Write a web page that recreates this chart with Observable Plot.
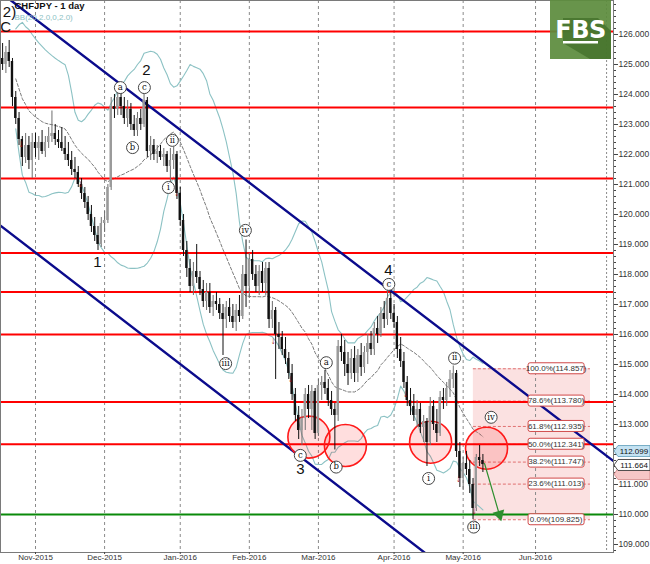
<!DOCTYPE html>
<html><head><meta charset="utf-8">
<script src="https://cdn.jsdelivr.net/npm/d3@7"></script>
<script src="https://cdn.jsdelivr.net/npm/@observablehq/plot@0.6"></script>
<style>
body{margin:0;background:#fff;}
#wrap{position:relative;width:650px;height:564px;overflow:hidden;background:#fff;}
#logo{position:absolute;left:550px;top:0;width:61px;height:59px;}
svg{overflow:visible}
</style></head><body><div id="wrap"><div id="logo"></div></div>
<script>
// ---------------- data ----------------
const title = "CHFJPY - 1 day";
const subtitle = "BB(20,2.0,0,2.0)";
const firstIndex = -10;            // bar index of 2015-10-19 (2015-11-02 = 0)
const firstDate = "2015-10-19";
const opens  = [125.2,125.0,125.4,125.1,123.9,123.2,122.5,121.9,122.3,121.8,
 122.4,122.2,122.4,122.1,122.4,122.6,122.7,122.5,122.4,122.2,122.0,121.8,121.5,121.4,121.0,120.7,120.4,120.0,119.6,119.3,119.0,
 119.7,119.8,120.9,123.6,123.5,123.9,123.6,123.2,123.5,123.0,122.8,123.2,123.0,123.8,122.1,122.3,122.0,122.1,121.9,122.0,121.6,121.8,122.0,
 120.7,119.8,118.8,118.2,117.6,118.1,117.9,117.5,117.1,117.4,116.9,117.1,117.0,116.7,116.5,116.9,116.6,116.4,116.8,116.6,118.0,
 117.6,118.5,118.0,117.6,118.1,117.7,118.2,116.5,116.8,116.0,115.9,115.5,115.2,114.7,114.0,113.3,112.8,113.2,114.0,113.5,114.1,
 112.7,114.3,114.4,114.2,113.8,113.5,113.3,115.6,115.4,115.0,114.7,115.2,114.7,115.3,114.9,115.4,115.7,115.5,116.2,116.0,116.7,116.5,117.2,
 116.7,116.4,115.5,115.1,114.4,113.8,113.6,113.3,113.5,112.9,113.1,112.4,113.6,113.0,112.7,113.9,113.8,114.2,114.5,114.7,112.1,
 111.2,111.7,111.5,111.0,110.2,111.9,111.8];
const highs  = [125.7,125.6,125.8,125.2,124.1,123.4,122.6,122.7,122.6,122.7,
 122.7,122.6,122.8,122.6,122.9,123.45,123.0,122.8,122.9,122.6,122.4,122.1,121.9,121.6,121.2,120.9,120.6,120.3,119.9,119.6,119.9,
 120.1,121.0,123.9,124.0,124.15,124.1,123.9,123.8,123.7,123.3,123.4,123.5,124.05,123.9,122.6,122.5,122.3,122.3,122.2,122.1,122.2,122.25,122.1,
 120.9,120.0,119.1,118.5,118.4,119.0,118.1,117.8,117.7,117.7,117.3,117.4,117.2,117.0,117.1,117.2,117.0,117.0,117.3,118.3,119.15,
 118.7,118.8,118.3,118.3,118.4,118.4,118.4,117.1,116.9,116.4,116.1,115.9,115.4,115.0,114.2,113.6,113.5,114.2,114.3,114.3,114.2,
 114.5,114.6,114.8,114.5,114.1,113.7,115.8,116.0,115.8,115.4,115.5,115.6,115.5,115.7,115.6,116.0,116.1,116.4,116.6,116.9,117.1,117.5,117.4,
 117.0,116.6,115.9,115.4,114.6,114.2,114.0,113.8,113.7,113.3,113.2,113.9,113.8,113.5,114.1,114.2,114.4,114.8,114.95,114.8,112.4,
 111.9,112.1,111.8,111.2,112.0,112.3,112.0];
const lows   = [124.8,124.7,124.9,123.6,123.0,122.3,121.6,121.7,121.5,121.2,
 121.9,121.8,122.0,121.9,122.2,122.4,122.3,122.2,122.1,121.8,121.6,121.3,121.2,120.9,120.5,120.2,119.8,119.4,119.1,118.8,118.9,
 119.4,119.7,120.8,123.2,123.3,123.3,123.0,122.9,122.8,122.6,122.6,122.8,122.9,121.9,121.8,121.8,121.7,121.8,121.6,121.4,121.0,121.5,120.5,
 119.6,118.6,117.9,117.4,117.3,117.7,117.3,116.9,116.8,116.7,116.6,116.8,116.5,115.3,116.2,116.4,116.2,116.1,116.4,116.5,116.9,
 117.2,117.8,117.4,117.3,117.4,117.3,116.2,116.2,114.5,115.5,115.3,115.0,114.5,113.8,113.1,112.5,112.3,112.8,113.2,112.8,112.5,
 112.6,113.8,114.0,113.6,113.3,112.15,113.1,115.1,114.6,114.3,114.5,114.4,114.4,114.6,114.7,115.0,115.3,115.3,115.7,115.9,116.2,116.3,116.5,
 116.2,115.2,114.9,114.2,113.6,113.3,113.1,112.9,112.7,112.4,111.6,112.3,112.8,112.4,112.6,113.5,113.6,113.9,114.2,111.9,110.9,
 110.8,111.3,110.7,109.83,110.1,111.6,111.4];
const closes = [125.0,125.4,125.1,123.9,123.2,122.5,121.9,122.3,121.8,122.4,
 122.2,122.4,122.1,122.4,122.6,122.7,122.5,122.4,122.2,122.0,121.8,121.5,121.4,121.0,120.7,120.4,120.0,119.6,119.3,119.0,119.7,
 119.8,120.9,123.6,123.5,123.9,123.6,123.2,123.5,123.0,122.8,123.2,123.0,123.8,122.1,122.3,122.0,122.1,121.9,122.0,121.6,121.8,122.0,120.7,
 119.8,118.8,118.2,117.6,118.1,117.9,117.5,117.1,117.4,116.9,117.1,117.0,116.7,116.5,116.9,116.6,116.4,116.8,116.6,118.0,117.6,
 118.5,118.0,117.6,118.1,117.7,118.2,116.5,116.8,116.0,115.9,115.5,115.2,114.7,114.0,113.3,112.8,113.2,114.0,113.5,114.1,112.7,
 114.3,114.4,114.2,113.8,113.5,113.3,115.6,115.4,115.0,114.7,115.2,114.7,115.3,114.9,115.4,115.7,115.5,116.2,116.0,116.7,116.5,117.2,116.7,
 116.4,115.5,115.1,114.4,113.8,113.6,113.3,113.5,112.9,113.1,112.4,113.6,113.0,112.7,113.9,113.8,114.2,114.5,114.7,112.1,111.2,
 111.7,111.5,111.0,110.2,111.9,111.8,111.664];

const monthStarts = ["2015-11-01","2015-12-01","2016-01-01","2016-02-01","2016-03-01","2016-04-01","2016-05-01","2016-06-01"];
const monthLabels = ["Nov-2015","Dec-2015","Jan-2016","Feb-2016","Mar-2016","Apr-2016","May-2016","Jun-2016"];
const priceTicks = [109,110,111,112,113,114,115,116,117,118,119,120,121,122,123,124,125,126];
const hiddenTickLabels = [112];   // covered by the price tags in the reference

const redLevels = [126.1,123.57,121.2,118.72,117.42,116.0,113.75,112.34];
const greenLevel = [110.0];

const fibPct    = [100.0,78.6,61.8,50.0,38.2,23.6,0.0];
const fibLevels = [114.857,113.780,112.935,112.341,111.747,111.013,109.825];
const fibStartIdx = 133.1, fibEndIdx = 168.7, fibLabelIdx = 158.4;

const upperChannel = [[-10.64,127.40],[175.7,111.78]];
const lowerChannel = [[-10.64,119.63],[121.0,108.50]];

const circleIdx   = [83.1,94.2,120.1,137.1];
const circlePrice = [112.58,112.30,112.41,112.21];

const waveText  = ["a","b","c","ii","i","iv","iii","c","a","b","c","i","ii","iv","iii"];
const waveIdx   = [25.8,29.5,33.1,41.6,40.4,63.8,57.8,80.5,88.4,91.4,107.4,119.5,127.4,138.5,133.2];
const wavePrice = [124.23,122.23,124.23,122.47,120.90,119.47,115.03,111.97,115.06,111.58,117.67,111.20,115.21,113.24,109.58];

const numText  = ["1","2","3","4","2)","C"];
const numIdx   = [18.8,33.7,80.5,107.3,-7.9,-9.1];
const numPrice = [118.40,124.80,111.50,118.13,126.73,126.23];

const fractalIdx   = [-4.3,13.7,42.9,72.3,77.5,112.5,128.6,133.4];
const fractalPrice = [122.37,121.03,120.73,115.80,114.53,114.03,111.20,110.13];

const forecastArrow = {x1:136.5, y1:111.70, x2:141.0, y2:110.0};
const shiftLineIdx = [173.6];
const bidPrice = 111.664, channelPrice = 112.099;

// ---------------- build ----------------
const candles = closes.map((c,k)=>({i:k+firstIndex,o:opens[k],h:highs[k],l:lows[k],c}));
const bb = candles.map((d,k)=>{
  const w = closes.slice(Math.max(0,k-19),k+1);
  const m = d3.mean(w), s = Math.sqrt(d3.mean(w,v=>(v-m)**2));
  return {i:d.i,m,u:m+2*s,lo:m-2*s,n:w.length};
}).filter(d=>d.n>=5);

const tradingDays=[];
{ const d=new Date(firstDate+"T00:00:00Z"); let k=firstIndex;
  while(tradingDays.length<220){const wd=d.getUTCDay(); if(wd!==0&&wd!==6) tradingDays.push({i:k++,date:new Date(d)}); d.setUTCDate(d.getUTCDate()+1);} }
const monthIdx = monthStarts.map(s=>{const t=new Date(s+"T00:00:00Z"); return tradingDays.find(d=>d.date>=t).i;});
const monthLabelOf = new Map(monthIdx.map((v,k)=>[v,monthLabels[k]]));
const minorTicks = d3.range(108.8,127.1,0.2).map(v=>+v.toFixed(1));

const font = "Liberation Sans, Arial, sans-serif";
const bull = d=>d.c>=d.o;

const plot = Plot.plot({
  width:650, height:564,
  marginLeft:0, marginRight:37, marginTop:0, marginBottom:12,
  style:{fontFamily:font, background:"#fff", overflow:"visible"},
  x:{type:"linear", domain:[-10.64,175.7], axis:null},
  y:{type:"linear", domain:[108.733,127.133], axis:null},
  marks:[
    Plot.rect([0],{x1:fibStartIdx,x2:fibEndIdx,y1:fibLevels[fibLevels.length-1],y2:fibLevels[0],fill:"#fbe1e1"}),
    Plot.ruleX(monthIdx,{stroke:"#8a8a8a",strokeDasharray:"3,3",strokeWidth:1}),
    Plot.ruleX(shiftLineIdx,{stroke:"#8a8a8a",strokeDasharray:"2,2",strokeWidth:1}),
    Plot.ruleY(fibLevels,{x1:fibStartIdx,x2:fibEndIdx,stroke:"#e07070",strokeDasharray:"3,2",strokeWidth:1}),
    Plot.line(bb,{x:"i",y:"u",stroke:"#8cc2c4",strokeWidth:1.1,clip:true}),
    Plot.line(bb,{x:"i",y:"lo",stroke:"#8cc2c4",strokeWidth:1.1,clip:true}),
    Plot.line(bb,{x:"i",y:"m",stroke:"#7a7a7a",strokeDasharray:"3,2",strokeWidth:1,clip:true}),
    Plot.ruleY(redLevels,{stroke:"#ff0000",strokeWidth:2}),
    Plot.ruleY(greenLevel,{stroke:"#0a8a0a",strokeWidth:2}),
    Plot.line(upperChannel,{x:d=>d[0],y:d=>d[1],stroke:"#0b0b8c",strokeWidth:2.4,clip:true}),
    Plot.line(lowerChannel,{x:d=>d[0],y:d=>d[1],stroke:"#0b0b8c",strokeWidth:2.4,clip:true}),
    Plot.dot(circleIdx.map((v,k)=>({x:v,y:circlePrice[k]})),{x:"x",y:"y",r:21,fill:"#ff0000",fillOpacity:0.13,stroke:"#ff1a1a",strokeWidth:1.6}),
    Plot.ruleX(candles,{x:"i",y1:"l",y2:"h",stroke:d=>bull(d)?"#6e6e6e":"#111",strokeWidth:1}),
    Plot.rect(candles,{x1:d=>d.i-0.36,x2:d=>d.i+0.36,y1:d=>Math.min(d.o,d.c),y2:d=>Math.max(d.o,d.c)+(d.o===d.c?0.03:0),fill:d=>bull(d)?"#9a9a9a":"#111"}),
    Plot.text(fractalIdx.map((v,k)=>({x:v,y:fractalPrice[k]})),{x:"x",y:"y",text:()=>"↓",fill:"#a01010",fontSize:10,fontWeight:"bold"}),
    Plot.arrow([forecastArrow],{x1:"x1",y1:"y1",x2:"x2",y2:"y2",stroke:"#2f8f2f",strokeWidth:1.2,headLength:0}),
    Plot.dot([forecastArrow],{x:"x2",y:"y2",symbol:"triangle",r:4.5,fill:"#2f8f2f",rotate:163.7}),
    Plot.dot(waveIdx.map((v,k)=>({x:v,y:wavePrice[k],t:waveText[k]})),{x:"x",y:"y",r:6,fill:"#fff",stroke:"#444",strokeWidth:1}),
    Plot.text(waveIdx.map((v,k)=>({x:v,y:wavePrice[k],t:waveText[k]})),{x:"x",y:"y",text:"t",fontFamily:"DejaVu Serif, serif",fontSize:8.5,fill:"#111",dy:-0.5}),
    Plot.text(numIdx.map((v,k)=>({x:v,y:numPrice[k],t:numText[k]})),{x:"x",y:"y",text:"t",fontSize:15,fill:"#111"}),
    Plot.text([title],{frameAnchor:"top-left",dx:14,dy:2,lineAnchor:"top",textAnchor:"start",fontWeight:"bold",fontSize:9.5,fill:"#111"}),
    Plot.text([subtitle],{frameAnchor:"top-left",dx:14,dy:14,lineAnchor:"top",textAnchor:"start",fontSize:8,fill:"#8cc2c4"}),
    Plot.frame({stroke:"#7a7a7a",strokeWidth:1}),
    Plot.axisY(minorTicks,{anchor:"right",tickSize:2,tickFormat:()=>"",stroke:"#444"}),
    Plot.axisY(priceTicks,{anchor:"right",tickSize:4,tickPadding:1,tickFormat:d=>hiddenTickLabels.includes(d)?"":d.toFixed(3),fontSize:8.5,fill:"#333",stroke:"#444"}),
    Plot.axisX(monthIdx,{anchor:"bottom",tickSize:2,tickPadding:0,tickFormat:d=>monthLabelOf.get(d),fontSize:8,fill:"#333",stroke:"#444"})
  ]
});
document.getElementById("wrap").prepend(plot);

// ---- labels drawn with the plot's own scales ----
const sx = plot.scale("x"), sy = plot.scale("y");
const svg = d3.select(plot);
const g = svg.append("g").attr("font-family",font);
fibLevels.forEach((lv,k)=>{
  const cx = sx.apply(fibLabelIdx), cy = sy.apply(lv);
  g.append("rect").attr("x",cx-28).attr("y",cy-5.5).attr("width",56).attr("height",11).attr("rx",2)
   .attr("fill","#fff").attr("stroke","#d04848").attr("stroke-width",1);
  g.append("text").attr("x",cx).attr("y",cy).attr("dy","0.35em").attr("text-anchor","middle")
   .attr("font-size",8).attr("fill","#333").text(`${fibPct[k].toFixed(1)}%(${lv.toFixed(3)})`);
});
const tag=(price,fill,stroke,text)=>{
  const y=sy.apply(price), x0=614;
  g.append("path").attr("d",`M${x0},${y} L${x0+4},${y-5.5} L${x0+36},${y-5.5} L${x0+36},${y+5.5} L${x0+4},${y+5.5} Z`)
   .attr("fill",fill).attr("stroke",stroke).attr("stroke-width",0.8);
  if(text) g.append("text").attr("x",x0+20).attr("y",y).attr("dy","0.35em").attr("text-anchor","middle")
   .attr("font-size",8).attr("fill","#111").text(text);
};
tag(111.33,"#f6c6c6","#d08080",null);
tag(channelPrice,"#c4e2f2","#5b9bb8",channelPrice.toFixed(3));
tag(bidPrice-0.03,"#fff","#222",bidPrice.toFixed(3));

document.getElementById("logo").innerHTML = `
<svg width="61" height="59" viewBox="0 0 61 59">
 <rect width="61" height="59" fill="#5d8c3d" fill-opacity="0.93"/>
 <polygon points="13,18 48,18 61,31 61,59 40,59 13,43" fill="#44702a" fill-opacity="0.8"/>
 <text x="30.5" y="38" text-anchor="middle" font-family="DejaVu Sans, sans-serif" font-weight="bold" font-size="24" fill="#fff" letter-spacing="-0.5">FBS</text>
 <rect x="13" y="41" width="35" height="2.5" fill="#fff"/>
</svg>`;
</script>
</body></html>
